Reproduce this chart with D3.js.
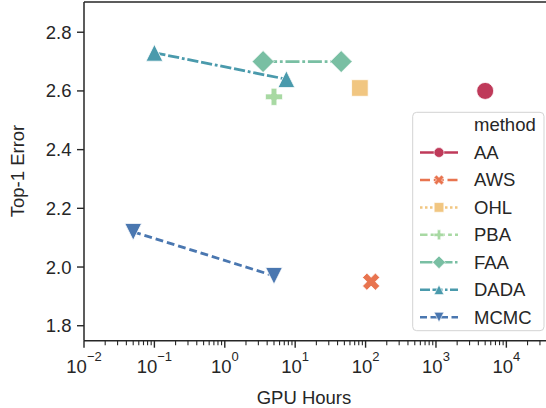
<!DOCTYPE html>
<html><head><meta charset="utf-8">
<script src="https://cdn.jsdelivr.net/npm/d3@7"></script>
<style>body{margin:0;background:#fff}svg{display:block;font-family:"Liberation Sans",Arial,sans-serif}</style>
</head><body><svg id="c" width="546" height="408"></svg>
<script>
const methods = ["AA","AWS","OHL","PBA","FAA","DADA","MCMC"];
const colors = ["#bf3a5a","#e8744f","#f1c681","#a8d9a3","#79bfa3","#4a9aac","#4a77b0"];
const gpuHours = [[5000],[120],[83],[5],[3.5,45],[0.1,7.5],[0.05,5]];
const top1Error = [[2.60],[1.95],[2.61],[2.58],[2.70,2.70],[2.73,2.64],[2.12,1.97]];
const dashes = [[],[4,1.5],[1,1],[3,1.25,1.5,1.25],[5,1,1,1],[4,1,4,1,1,1],[2.8,1.4]];
const markers = ["o","X","s","P","D","^","v"];
const yTicks = [1.8,2.0,2.2,2.4,2.6,2.8];
const xTickExps = [-2,-1,0,1,2,3,4];

const svg = d3.select("#c");
const ink = "#262626";
const L = 84, T = 2, B = 340.7, R = 548.6;
const x = d3.scaleLog().domain([1e-2, Math.pow(10,4.6)]).range([L, R]);
const y = d3.scaleLinear().domain([1.749, 2.903]).range([B, T]);

function markerPath(m, s) {
  const p = d3.path();
  if (m === "o") { p.arc(0,0,8.5*s,0,2*Math.PI); p.closePath(); return p.toString(); }
  if (m === "s") { const h=8.3*s; return `M${-h},${-h}H${h}V${h}H${-h}Z`; }
  if (m === "D") { const h=11*s; return `M0,${-h}L${h},0L0,${h}L${-h},0Z`; }
  if (m === "^") { const h=8.4*s; return `M0,${-h}L${h},${h}L${-h},${h}Z`; }
  if (m === "v") { const h=8.4*s; return `M0,${h}L${h},${-h}L${-h},${-h}Z`; }
  const a = 8.6*s, t = 2.9*s;
  const pts = [[-t,-a],[t,-a],[t,-t],[a,-t],[a,t],[t,t],[t,a],[-t,a],[-t,t],[-a,t],[-a,-t],[-t,-t]];
  let rot = m === "X" ? Math.PI/4 : 0;
  const sc = m === "X" ? 1.06 : 1;
  const r = pts.map(([px,py]) => [sc*(px*Math.cos(rot)-py*Math.sin(rot)), sc*(px*Math.sin(rot)+py*Math.cos(rot))]);
  return "M" + r.map(q => q[0].toFixed(2)+","+q[1].toFixed(2)).join("L") + "Z";
}

// lines
const lw = 2.8;
methods.forEach((m,i) => {
  if (gpuHours[i].length < 2) return;
  const pts = gpuHours[i].map((g,j) => [x(g), y(top1Error[i][j])]);
  svg.append("path").attr("d", d3.line()(pts)).attr("fill","none")
    .attr("stroke", colors[i]).attr("stroke-width", lw)
    .attr("stroke-dasharray", dashes[i].map(d => d*lw).join(","));
});
// markers
methods.forEach((m,i) => {
  gpuHours[i].forEach((g,j) => {
    svg.append("path").attr("d", markerPath(markers[i],1))
      .attr("transform", `translate(${x(g)},${y(top1Error[i][j])})`)
      .attr("fill", colors[i]).attr("stroke","#fff").attr("stroke-width",0.8);
  });
});

// spines
svg.append("line").attr("x1",L).attr("x2",L).attr("y1",T).attr("y2",B).attr("stroke",ink).attr("stroke-width",1.5);
svg.append("line").attr("x1",L).attr("x2",R).attr("y1",B).attr("y2",B).attr("stroke",ink).attr("stroke-width",1.5);
svg.append("line").attr("x1",L).attr("x2",R).attr("y1",T).attr("y2",T).attr("stroke",ink).attr("stroke-width",1.5);

// y ticks
yTicks.forEach(v => {
  svg.append("line").attr("x1",L-7).attr("x2",L).attr("y1",y(v)).attr("y2",y(v)).attr("stroke",ink).attr("stroke-width",1.4);
  svg.append("text").attr("x",L-12.5).attr("y",y(v)).attr("dy","0.35em").attr("text-anchor","end")
    .attr("font-size",18.5).attr("fill",ink).text(v.toFixed(1));
});
// x ticks
xTickExps.forEach(e => {
  const v = Math.pow(10,e), px = x(v);
  svg.append("line").attr("x1",px).attr("x2",px).attr("y1",B).attr("y2",B+7).attr("stroke",ink).attr("stroke-width",1.4);
  const t = svg.append("text").attr("x",px).attr("y",372.5).attr("text-anchor","middle").attr("fill",ink);
  t.append("tspan").attr("font-size",18.5).text("10");
  t.append("tspan").attr("font-size",13).attr("dy",-12).text(e < 0 ? "\u2212" + (-e) : String(e));
  for (let k = 2; k <= 9; k++) {
    const mv = k*v;
    if (mv > x.domain()[1]) break;
    svg.append("line").attr("x1",x(mv)).attr("x2",x(mv)).attr("y1",B).attr("y2",B+4.5).attr("stroke",ink).attr("stroke-width",1.1);
  }
});

// axis labels
svg.append("text").attr("x",304).attr("y",403.5).attr("text-anchor","middle").attr("font-size",18.5).attr("fill",ink).text("GPU Hours");
svg.append("text").attr("transform","translate(18,171) rotate(-90)").attr("dy","0.35em").attr("text-anchor","middle")
  .attr("font-size",18.5).attr("fill",ink).text("Top-1 Error");

// legend
const lg = svg.append("g");
lg.append("rect").attr("x",412.7).attr("y",112.3).attr("width",131.3).attr("height",218.4).attr("rx",4)
  .attr("fill","#fff").attr("fill-opacity",0.8).attr("stroke","#d3d3d3").attr("stroke-width",1);
lg.append("text").attr("x",474).attr("y",125).attr("dy","0.35em").attr("font-size",18.5).attr("fill",ink).text("method");
const llw = 2.5;
methods.forEach((m,i) => {
  const yy = 152.5 + i*27.45;
  lg.append("line").attr("x1",420).attr("x2",458).attr("y1",yy).attr("y2",yy)
    .attr("stroke",colors[i]).attr("stroke-width",llw)
    .attr("stroke-dasharray", dashes[i].map(d => d*llw).join(","));
  lg.append("path").attr("d", markerPath(markers[i],0.58)).attr("transform",`translate(439,${yy})`)
    .attr("fill",colors[i]).attr("stroke","#fff").attr("stroke-width",0.6);
  lg.append("text").attr("x",474).attr("y",yy).attr("dy","0.35em").attr("font-size",18.5).attr("fill",ink).text(m);
});
</script></body></html>
